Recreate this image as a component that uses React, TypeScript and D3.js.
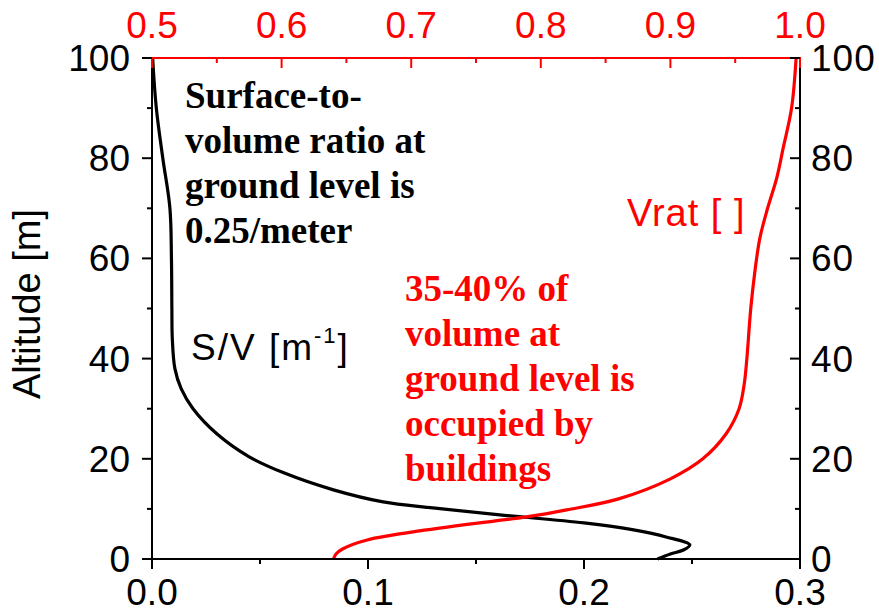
import React, { useEffect, useRef } from 'react';
import * as d3 from 'd3';

// S/V curve (black, bottom axis)
const svAltitude = [100, 90, 80, 70, 60, 50, 44, 38, 34, 30, 25, 20.4, 17.2, 13.8, 11.4, 10.2, 8.8, 7.2, 5.8, 4.4, 2.8, 1.8, 1.0, 0];
const svValues = [0.0003, 0.002, 0.005, 0.0083, 0.009, 0.0092, 0.0094, 0.0106, 0.0135, 0.019, 0.03, 0.045, 0.061, 0.084, 0.107, 0.13, 0.161, 0.2, 0.223, 0.238, 0.249, 0.246, 0.24, 0.234];

// Vrat curve (red, top axis)
const vratAltitude = [0, 1, 2, 3.8, 5.8, 7.6, 8.4, 9.8, 12, 16, 20, 25, 30, 35, 40, 50, 57, 64, 70, 76, 82, 90, 100];
const vratValues = [0.64, 0.642, 0.647, 0.666, 0.712, 0.765, 0.789, 0.82, 0.86, 0.9, 0.925, 0.943, 0.953, 0.957, 0.959, 0.962, 0.965, 0.969, 0.975, 0.982, 0.987, 0.9935, 0.997];

const bottomTicks = [0, 0.1, 0.2, 0.3];
const bottomMinor = [0.05, 0.15, 0.25];
const topTicks = [0.5, 0.6, 0.7, 0.8, 0.9, 1.0];
const topMinor = [0.55, 0.65, 0.75, 0.85, 0.95];
const altTicks = [0, 20, 40, 60, 80, 100];
const altMinor = [10, 30, 50, 70, 90];

const leftNote = ['Surface-to-', 'volume ratio at', 'ground level is', '0.25/meter'];
const rightNote = ['35-40% of', 'volume at', 'ground level is', 'occupied by', 'buildings'];

const sans = 'Liberation Sans, Arial, sans-serif';
const serif = 'Liberation Serif, Times New Roman, serif';

export default function App() {
  const ref = useRef<SVGSVGElement>(null);

  useEffect(() => {
    const svg = d3.select(ref.current);
    svg.selectAll('*').remove();

    const left = 152, right = 800, top = 58, bottom = 559;
    const xSV = d3.scaleLinear().domain([0, 0.3]).range([left, right]);
    const xV = d3.scaleLinear().domain([0.5, 1.0]).range([left, right]);
    const y = d3.scaleLinear().domain([0, 100]).range([bottom, top]);

    // curves
    const svLine = d3.line<number>()
      .x((d) => xSV(d))
      .y((d, i) => y(svAltitude[i]))
      .curve(d3.curveCatmullRom.alpha(0.5));
    const vLine = d3.line<number>()
      .x((d) => xV(d))
      .y((d, i) => y(vratAltitude[i]))
      .curve(d3.curveCatmullRom.alpha(0.5));

    svg.append('path').attr('d', svLine(svValues)).attr('fill', 'none')
      .attr('stroke', '#000').attr('stroke-width', 3.2);
    svg.append('path').attr('d', vLine(vratValues)).attr('fill', 'none')
      .attr('stroke', '#ff0000').attr('stroke-width', 3.2);

    // axes lines
    const g = svg.append('g').attr('stroke-width', 2);
    g.append('line').attr('x1', left).attr('x2', left).attr('y1', top).attr('y2', bottom).attr('stroke', '#000');
    g.append('line').attr('x1', right).attr('x2', right).attr('y1', top).attr('y2', bottom).attr('stroke', '#000');
    g.append('line').attr('x1', left).attr('x2', right).attr('y1', bottom).attr('y2', bottom).attr('stroke', '#000');
    g.append('line').attr('x1', left - 1).attr('x2', right + 1).attr('y1', top).attr('y2', top).attr('stroke', '#ff0000');

    // bottom ticks (outward)
    g.selectAll('.bmaj').data(bottomTicks).enter().append('line')
      .attr('x1', (d) => xSV(d)).attr('x2', (d) => xSV(d))
      .attr('y1', bottom).attr('y2', bottom + 10).attr('stroke', '#000');
    g.selectAll('.bmin').data(bottomMinor).enter().append('line')
      .attr('x1', (d) => xSV(d)).attr('x2', (d) => xSV(d))
      .attr('y1', bottom).attr('y2', bottom + 5).attr('stroke', '#000');
    // top ticks (inward)
    g.selectAll('.tmaj').data(topTicks).enter().append('line')
      .attr('x1', (d) => xV(d)).attr('x2', (d) => xV(d))
      .attr('y1', top).attr('y2', top + 10).attr('stroke', '#ff0000');
    g.selectAll('.tmin').data(topMinor).enter().append('line')
      .attr('x1', (d) => xV(d)).attr('x2', (d) => xV(d))
      .attr('y1', top).attr('y2', top + 5).attr('stroke', '#ff0000');
    // left ticks (outward)
    g.selectAll('.lmaj').data(altTicks).enter().append('line')
      .attr('x1', left - 10).attr('x2', left)
      .attr('y1', (d) => y(d)).attr('y2', (d) => y(d)).attr('stroke', '#000');
    g.selectAll('.lmin').data(altMinor).enter().append('line')
      .attr('x1', left - 5).attr('x2', left)
      .attr('y1', (d) => y(d)).attr('y2', (d) => y(d)).attr('stroke', '#000');
    // right ticks (inward)
    g.selectAll('.rmaj').data(altTicks).enter().append('line')
      .attr('x1', right - 10).attr('x2', right)
      .attr('y1', (d) => y(d)).attr('y2', (d) => y(d)).attr('stroke', '#000');
    g.selectAll('.rmin').data(altMinor).enter().append('line')
      .attr('x1', right - 5).attr('x2', right)
      .attr('y1', (d) => y(d)).attr('y2', (d) => y(d)).attr('stroke', '#000');

    // tick labels
    const fs = 37;
    svg.selectAll('.bl').data(bottomTicks).enter().append('text')
      .attr('x', (d) => xSV(d)).attr('y', 605).attr('text-anchor', 'middle')
      .attr('font-family', sans).attr('font-size', fs).text((d) => d.toFixed(1));
    svg.selectAll('.tl').data(topTicks).enter().append('text')
      .attr('x', (d) => xV(d)).attr('y', 38).attr('text-anchor', 'middle')
      .attr('fill', '#ff0000')
      .attr('font-family', sans).attr('font-size', fs).text((d) => d.toFixed(1));
    svg.selectAll('.ll').data(altTicks).enter().append('text')
      .attr('x', 130).attr('y', (d) => y(d) + 13).attr('text-anchor', 'end')
      .attr('font-family', sans).attr('font-size', fs).text((d) => String(d));
    svg.selectAll('.rl').data(altTicks).enter().append('text')
      .attr('x', 811).attr('y', (d) => y(d) + 13).attr('text-anchor', 'start')
      .attr('font-family', sans).attr('font-size', fs).attr('letter-spacing', 1)
      .text((d) => String(d));

    // axis title
    svg.append('text')
      .attr('transform', 'translate(40,304) rotate(-90)')
      .attr('text-anchor', 'middle')
      .attr('font-family', sans).attr('font-size', 38)
      .text('Altitude [m]');

    // series labels
    const sv = svg.append('text').attr('x', 191).attr('y', 360)
      .attr('font-family', sans).attr('font-size', fs).attr('letter-spacing', 2);
    sv.append('tspan').text('S/V [m');
    sv.append('tspan').attr('dy', -17).attr('font-size', 22).text('-1');
    sv.append('tspan').attr('dy', 17).text(']');

    svg.append('text').attr('x', 627).attr('y', 226)
      .attr('fill', '#ff0000').attr('font-family', sans).attr('font-size', 38)
      .attr('letter-spacing', 1)
      .text('Vrat [ ]');

    // notes
    svg.selectAll('.ln').data(leftNote).enter().append('text')
      .attr('x', 185).attr('y', (d, i) => 108 + i * 45)
      .attr('font-family', serif).attr('font-weight', 'bold').attr('font-size', 37)
      .text((d) => d);
    svg.selectAll('.rn').data(rightNote).enter().append('text')
      .attr('x', 405).attr('y', (d, i) => 301 + i * 45)
      .attr('fill', '#ff0000')
      .attr('font-family', serif).attr('font-weight', 'bold').attr('font-size', 37)
      .text((d) => d);
  }, []);

  return (
    <svg
      ref={ref}
      width={879}
      height={612}
      style={{ position: 'absolute', left: 0, top: 0, background: '#fff' }}
    />
  );
}
